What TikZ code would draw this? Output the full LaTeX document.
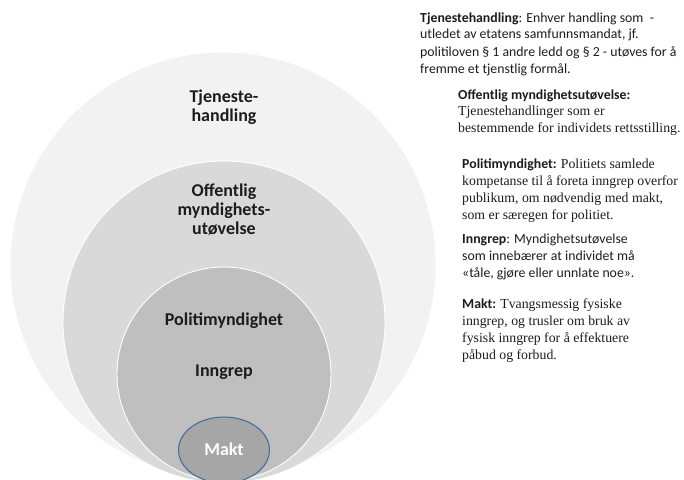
\documentclass[tikz,border=0pt]{standalone}
\usepackage{fontspec}
\setmainfont{Carlito}
\newfontfamily\seriffont{Liberation Serif}
\usetikzlibrary{shapes.geometric}
\definecolor{ringA}{HTML}{F2F2F2}
\definecolor{ringB}{HTML}{D9D9D9}
\definecolor{ringC}{HTML}{BFBFBF}
\definecolor{coreD}{HTML}{A6A6A6}
\definecolor{coreLine}{HTML}{41699C}
\definecolor{ink}{HTML}{1C1C1C}
\begin{document}
\begin{tikzpicture}[x=1pt,y=-1pt,
  ring/.style={circle,draw=white,line width=0.9pt,inner sep=0pt},
  ringlabel/.style={anchor=base,inner sep=0pt,text=ink,
    font=\fontsize{18}{19}\selectfont\bfseries},
  note/.style={anchor=base west,inner sep=0pt,text=ink,
    font=\fontsize{13.8}{17}\selectfont}]
\useasboundingbox (0,0) rectangle (684,479);
\begin{scope}
\clip (0,0) rectangle (684,479);
% nested rings
\node[ring,fill=ringA,minimum size=426pt] (tj) at (223,265) {};
\node[ring,fill=ringB,minimum size=322pt] (om) at (224,322) {};
\node[ring,fill=ringC,minimum size=214pt] (pm) at (224,374) {};
\node[ellipse,draw=coreLine,line width=1pt,fill=coreD,
      minimum width=91pt,minimum height=66pt,inner sep=0pt] (mk) at (224,450) {};
\end{scope}
% ring labels
\node[ringlabel] (tjl) at (224,102)
  {\setlength\tabcolsep{0pt}\begin{tabular}[t]{c}Tjeneste-\\handling\end{tabular}};
\node[ringlabel] (oml) at (224,196)
  {\setlength\tabcolsep{0pt}\begin{tabular}[t]{c}Offentlig\\myndighets-\\utøvelse\end{tabular}};
\node[ringlabel] (pml) at (224,325) {Politimyndighet};
\node[ringlabel] (igl) at (224,376) {Inngrep};
\node[ringlabel,text=white] (mkl) at (224,455) {Makt};
% definitions
\node[note] (n1) at (420,22) {\parbox[t]{264pt}{\raggedright
  \textbf{Tjenestehandling}: Enhver handling som\ \ -\\
  utledet av etatens samfunnsmandat, jf.\\
  politiloven\ § 1 andre ledd og § 2 - utøves for å\\
  fremme et tjenstlig formål.}};
\node[note] (n2) at (458,99) {\parbox[t]{226pt}{\raggedright
  \textbf{Offentlig myndighetsutøvelse:}\\[-0.5pt]
  {\seriffont Tjenestehandlinger som er\\
  bestemmende for individets rettsstilling.}}};
\node[note] (n3) at (462,168) {\parbox[t]{222pt}{\raggedright
  \textbf{Politimyndighet:} {\seriffont Politiets samlede\\
  kompetanse til å foreta inngrep overfor\\
  publikum, om nødvendig med makt,\\
  som er særegen for politiet.}}};
\node[note] (n4) at (462,243) {\parbox[t]{222pt}{\raggedright
  \textbf{Inngrep}: Myndighetsutøvelse\\
  som innebærer at individet må\\
  «tåle, gjøre eller unnlate noe».}};
\node[note] (n5) at (462,308) {\parbox[t]{222pt}{\raggedright
  \textbf{Makt:} {\seriffont Tvangsmessig fysiske\\
  inngrep, og trusler om bruk av\\
  fysisk inngrep for å effektuere\\
  påbud og forbud.}}};
\end{tikzpicture}
\end{document}
